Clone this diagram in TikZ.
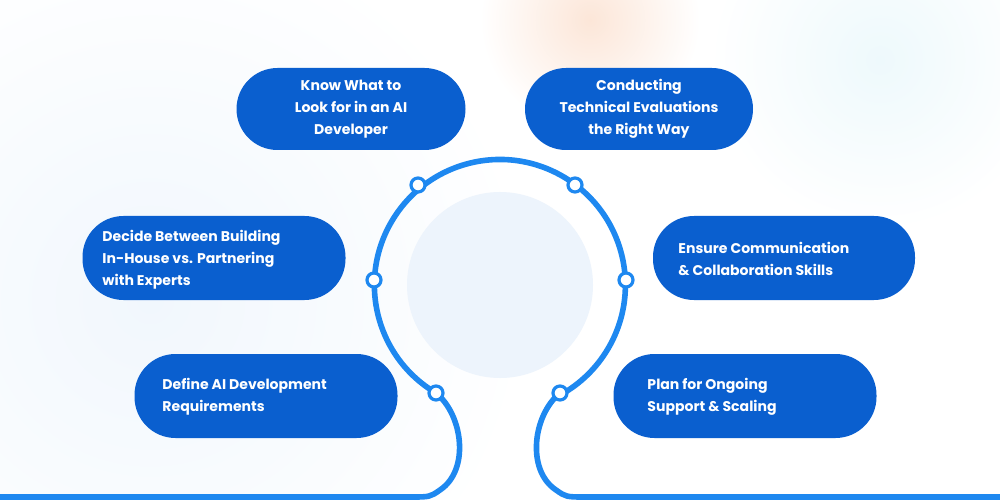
\documentclass[tikz,border=0pt]{standalone}
\usepackage{fontspec}
\setmainfont{Poppins}
\usetikzlibrary{shadings}
\definecolor{pill}{HTML}{0A5FCF}
\definecolor{arc}{HTML}{1E88F0}
\definecolor{inner}{HTML}{EDF4FC}
\definecolor{bgb}{HTML}{F1F7FD}
\definecolor{bgo}{HTML}{FCE6D8}
\definecolor{bgc}{HTML}{EEF9FC}
\begin{document}
\begin{tikzpicture}[x=0.5mm,y=-0.5mm,
  pill/.style={fill=pill,rounded corners=20.5mm,text=white,font=\fontsize{20}{31}\selectfont\bfseries,align=center,inner sep=0pt},
  lbl/.style={text=white,font=\fontsize{20}{31}\selectfont\bfseries,align=left,anchor=west},
  dot/.style={circle,draw=arc,line width=1.6mm,fill=white,minimum size=7mm,inner sep=0pt},
  link/.style={draw=arc,line width=2.8mm}]
\useasboundingbox (0,0) rectangle (1000,500);
\fill[white] (0,0) rectangle (1000,500);
\begin{scope}
\clip (0,0) rectangle (1000,500);
\shade[inner color=bgb,outer color=white] (150,300) circle (380);
\shade[inner color=bgc,outer color=white] (880,60) circle (170);
\shade[inner color=bgo,outer color=white] (590,20) circle (110);
\end{scope}
\fill[inner] (500,285) circle (93);
\coordinate (d5) at (436,393);
\coordinate (d6) at (560,393);
\coordinate (bl) at (0,497);
\coordinate (br) at (1000,497);
\draw[link] (d5) arc[start angle=120.6,end angle=420.9,radius=125.5];
\draw[link] (d5) .. controls (463,415) and (470,470) .. (440,490) .. controls (430,497) .. (410,497) -- (bl);
\draw[link] (d6) .. controls (533,415) and (526,470) .. (556,490) .. controls (566,497) .. (586,497) -- (br);
\node[dot] (n1) at (418,185) {};
\node[dot] (n2) at (575,185) {};
\node[dot] (n3) at (374,280) {};
\node[dot] (n4) at (626,280) {};
\node[dot] (n5) at (d5) {};
\node[dot] (n6) at (d6) {};
\node[pill,minimum width=229*0.5mm,minimum height=82*0.5mm] (p1) at (351,109) {Know What to\\Look for in an AI\\Developer};
\node[pill,minimum width=228*0.5mm,minimum height=82*0.5mm] (p2) at (639,109) {Conducting\\Technical Evaluations\\the Right Way};
\node[pill,minimum width=263*0.5mm,minimum height=84*0.5mm] (p3) at (214,258) {};
\node[lbl] (t3) at (100,260) {Decide Between Building\\In-House vs. Partnering\\with Experts};
\node[pill,minimum width=262*0.5mm,minimum height=84*0.5mm] (p4) at (784,258) {};
\node[lbl] (t4) at (676,259) {Ensure Communication\\\& Collaboration Skills};
\node[pill,minimum width=263*0.5mm,minimum height=84*0.5mm] (p5) at (266,396) {};
\node[lbl] (t5) at (160,397) {Define AI Development\\Requirements};
\node[pill,minimum width=263*0.5mm,minimum height=84*0.5mm] (p6) at (745,396) {};
\node[lbl] (t6) at (645,397) {Plan for Ongoing\\Support \& Scaling};
\end{tikzpicture}
\end{document}
